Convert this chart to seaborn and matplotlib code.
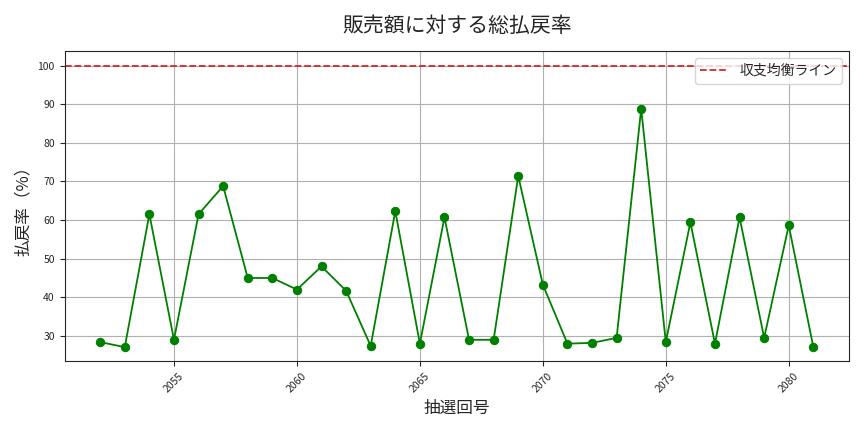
import matplotlib
matplotlib.use("Agg")
import matplotlib.pyplot as plt
import seaborn as sns
import pandas as pd

draws = list(range(2052, 2082))
payout_rate = [28.4, 27.1, 61.5, 29.0, 61.5, 68.8, 45.0, 45.0, 42.0, 48.0,
               41.7, 27.4, 62.3, 28.0, 60.7, 29.0, 29.0, 71.4, 43.3, 28.0,
               28.2, 29.5, 88.8, 28.4, 59.4, 28.0, 60.7, 29.5, 58.6, 27.1]
breakeven = 100

sns.set_style("ticks")
plt.rcParams['font.family'] = ['Noto Sans CJK JP', 'DejaVu Sans']

df = pd.DataFrame({"draw": draws, "rate": payout_rate})

fig, ax = plt.subplots(figsize=(8.64, 4.32), dpi=100)
sns.lineplot(data=df, x="draw", y="rate", color="green", marker="o",
             markersize=6, markeredgecolor="green", linewidth=1.3, ax=ax)
ax.axhline(breakeven, color="#d62728", linestyle="--", linewidth=1.3, label="収支均衡ライン")
ax.set_title("販売額に対する総払戻率", fontsize=15, pad=14)
ax.set_xlabel("抽選回号", fontsize=12)
ax.set_ylabel("払戻率（%）", fontsize=12)
ax.set_xticks([2055, 2060, 2065, 2070, 2075, 2080])
ax.tick_params(axis="x", labelrotation=45, labelsize=7.5)
ax.tick_params(axis="y", labelsize=7.5)
ax.grid(True, color="#b0b0b0", linewidth=0.8)
ax.legend(loc="upper right", fontsize=10)
plt.tight_layout()
plt.savefig("out.png", dpi=100)
